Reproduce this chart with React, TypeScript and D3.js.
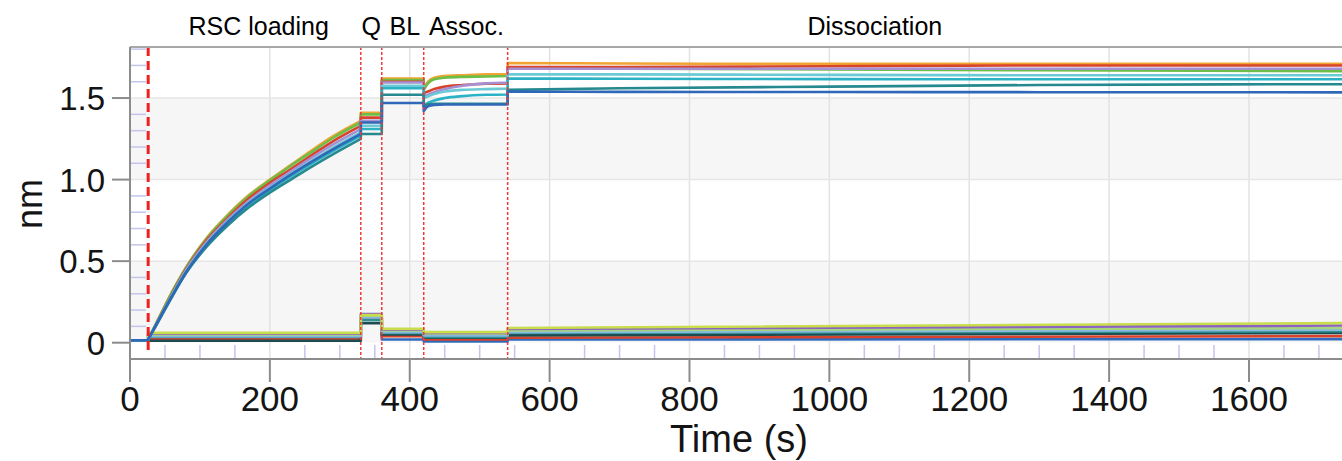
import React from 'react';
import * as d3 from 'd3';

// chart frame
const W = 1342, H = 461;
const plotLeft = 130, plotTop = 47, plotBottom = 359, plotRight = 1342;

const xMax = 1733;
const yMin = -0.1, yMax = 1.813;

const xTicks = [0, 200, 400, 600, 800, 1000, 1200, 1400, 1600];
const yTicks = [0, 0.5, 1.0, 1.5];
const yTickLabels = ['0', '0.5', '1.0', '1.5'];

// phase boundaries (s)
const loadStart = 26;
const stepTimes = [330, 360, 420, 540];
const phaseNames = ['RSC loading', 'Q', 'BL', 'Assoc.', 'Dissociation'];
const phaseLabelTimes = [184, 345, 393, 481, 1065];

// sensor traces (loaded)
const topColors = ['#f0a434', '#6cbf46', '#d8432c', '#a490d2', '#6ccad6', '#2bb2c4', '#26898f', '#2f68b8'];
const topPre = [0.015, 0.015, 0.015, 0.015, 0.015, 0.015, 0.015, 0.015];
const loadTimes = [26, 40, 60, 80, 110, 140, 170, 200, 230, 260, 290, 330];
const topLoad = [
  [0.02, 0.14, 0.31, 0.46, 0.645, 0.785, 0.905, 1.00, 1.09, 1.18, 1.265, 1.36],
  [0.02, 0.14, 0.31, 0.46, 0.64, 0.78, 0.90, 0.995, 1.085, 1.17, 1.255, 1.35],
  [0.02, 0.135, 0.30, 0.45, 0.63, 0.765, 0.885, 0.98, 1.065, 1.15, 1.235, 1.33],
  [0.02, 0.13, 0.295, 0.445, 0.62, 0.755, 0.87, 0.965, 1.05, 1.135, 1.215, 1.31],
  [0.02, 0.13, 0.29, 0.435, 0.61, 0.745, 0.86, 0.95, 1.035, 1.115, 1.195, 1.29],
  [0.02, 0.13, 0.285, 0.43, 0.60, 0.735, 0.845, 0.935, 1.02, 1.10, 1.175, 1.27],
  [0.02, 0.125, 0.28, 0.425, 0.59, 0.72, 0.83, 0.92, 1.00, 1.08, 1.155, 1.25],
  [0.02, 0.13, 0.285, 0.43, 0.605, 0.74, 0.855, 0.945, 1.03, 1.11, 1.185, 1.28],
];
const topQ = [1.41, 1.40, 1.38, 1.36, 1.33, 1.31, 1.28, 1.35];
const topBL = [1.62, 1.61, 1.60, 1.595, 1.575, 1.56, 1.52, 1.47];
const assocTimes = [420, 426, 435, 450, 475, 510, 540];
const topAssoc = [
  [1.56, 1.60, 1.625, 1.635, 1.64, 1.645, 1.645],
  [1.55, 1.59, 1.615, 1.625, 1.63, 1.632, 1.635],
  [1.53, 1.54, 1.555, 1.57, 1.58, 1.588, 1.59],
  [1.51, 1.52, 1.535, 1.555, 1.575, 1.59, 1.595],
  [1.50, 1.51, 1.525, 1.54, 1.55, 1.555, 1.558],
  [1.45, 1.47, 1.485, 1.50, 1.512, 1.52, 1.522],
  [1.45, 1.46, 1.465, 1.465, 1.465, 1.465, 1.465],
  [1.42, 1.45, 1.458, 1.46, 1.46, 1.46, 1.46],
];
const dissocTimes = [540, 700, 1000, 1300, 1733];
const topDissoc = [
  [1.715, 1.712, 1.71, 1.71, 1.71],
  [1.685, 1.68, 1.675, 1.67, 1.665],
  [1.69, 1.69, 1.695, 1.70, 1.70],
  [1.68, 1.68, 1.68, 1.68, 1.68],
  [1.645, 1.645, 1.642, 1.64, 1.64],
  [1.62, 1.618, 1.616, 1.615, 1.615],
  [1.55, 1.56, 1.57, 1.58, 1.585],
  [1.54, 1.538, 1.537, 1.536, 1.535],
];

// reference traces (not loaded)
const refColors = ['#c8dc4c', '#8c62c4', '#a6d47c', '#86b8e2', '#2e9090', '#1c4c50', '#d9412b', '#2f6cc0'];
const refPre = [0.015, 0.015, 0.015, 0.015, 0.015, 0.015, 0.015, 0.015];
const refLoad = [0.06, 0.055, 0.05, 0.04, 0.035, 0.012, 0.025, 0.028];
const refQ = [0.17, 0.175, 0.165, 0.155, 0.14, 0.12, 0.15, 0.15];
const refBL = [0.085, 0.08, 0.075, 0.065, 0.06, 0.05, 0.04, 0.02];
const refAssoc = [0.065, 0.06, 0.055, 0.045, 0.035, 0.03, 0.02, 0.008];
const refDissocStart = [0.09, 0.085, 0.075, 0.065, 0.06, 0.045, 0.03, 0.02];
const refDissocEnd = [0.12, 0.105, 0.09, 0.08, 0.07, 0.06, 0.04, 0.022];

const font = "'Liberation Sans', Arial, sans-serif";

type Pt = [number, number];

export default function App() {
  const x = d3.scaleLinear().domain([0, xMax]).range([plotLeft, plotRight]);
  const y = d3.scaleLinear().domain([yMin, yMax]).range([plotBottom, plotTop]);

  const line = d3.line<Pt>().x(d => x(d[0])).y(d => y(d[1])).curve(d3.curveMonotoneX);

  // joins the phase segments into one path, the jumps become vertical steps
  const joinSegs = (segs: Pt[][]) =>
    segs.map((s, i) => { const p = line(s) || ''; return i === 0 ? p : 'L' + p.slice(1); }).join('');

  const [q0, q1, a0, d0] = stepTimes;

  const topPaths = topColors.map((c, i) => joinSegs([
    [[0, topPre[i]], [loadStart, topPre[i]]],
    loadTimes.map((t, j) => [t, topLoad[i][j]] as Pt),
    [[q0, topQ[i]], [q1, topQ[i]]],
    [[q1, topBL[i]], [a0, topBL[i]]],
    assocTimes.map((t, j) => [t, topAssoc[i][j]] as Pt),
    dissocTimes.map((t, j) => [t, topDissoc[i][j]] as Pt),
  ]));

  const refPaths = refColors.map((c, i) => joinSegs([
    [[0, refPre[i]], [loadStart, refPre[i]]],
    [[loadStart, refLoad[i]], [q0, refLoad[i]]],
    [[q0, refQ[i]], [q1, refQ[i]]],
    [[q1, refBL[i]], [a0, refBL[i]]],
    [[a0, refAssoc[i]], [d0, refAssoc[i]]],
    [[d0, refDissocStart[i]], [xMax, refDissocEnd[i]]],
  ]));

  const xMinor = d3.range(50, xMax, 50).filter(t => t % 200 !== 0);
  const yMinor = d3.range(-0.1, yMax, 0.1).map(v => Math.round(v * 10) / 10).filter(v => Math.abs((v * 2) - Math.round(v * 2)) > 1e-6);

  return (
    <svg width={W} height={H} style={{ position: 'absolute', left: 0, top: 0, background: '#fff' }}>
      <defs>
        <clipPath id="plot">
          <rect x={plotLeft} y={plotTop} width={plotRight - plotLeft} height={plotBottom - plotTop} />
        </clipPath>
      </defs>

      {/* shaded bands */}
      <rect x={plotLeft} y={y(0.5)} width={plotRight - plotLeft} height={y(0) - y(0.5)} fill="#f6f6f6" />
      <rect x={plotLeft} y={y(1.5)} width={plotRight - plotLeft} height={y(1.0) - y(1.5)} fill="#f6f6f6" />

      {/* grid */}
      {xTicks.filter(t => t > 0).map(t => (
        <line key={'gx' + t} x1={x(t)} x2={x(t)} y1={plotTop} y2={plotBottom} stroke="#e2e2e2" strokeWidth={1.5} />
      ))}
      {yTicks.filter(v => v > 0).map(v => (
        <line key={'gy' + v} x1={plotLeft} x2={plotRight} y1={y(v)} y2={y(v)} stroke="#e6e6e6" strokeWidth={1.5} />
      ))}

      {/* minor ticks inside */}
      {xMinor.map(t => (
        <line key={'mx' + t} x1={x(t)} x2={x(t)} y1={plotBottom} y2={plotBottom - 14} stroke="#c4c4ec" strokeWidth={1.5} />
      ))}
      {yMinor.map(v => (
        <line key={'my' + v} x1={plotLeft} x2={plotLeft + 16} y1={y(v)} y2={y(v)} stroke="#c4c4ec" strokeWidth={1.5} />
      ))}

      {/* traces */}
      <g clipPath="url(#plot)" fill="none" strokeLinejoin="round">
        {refPaths.map((p, i) => ({ p, i })).reverse().map(({ p, i }) => (
          <path key={'r' + i} d={p} stroke={refColors[i]} strokeWidth={2.6} />
        ))}
        {topPaths.map((p, i) => (
          <path key={'t' + i} d={p} stroke={topColors[i]} strokeWidth={2.6} />
        ))}
      </g>

      {/* phase markers */}
      <line x1={x(loadStart)} x2={x(loadStart)} y1={plotTop} y2={plotBottom - 6} stroke="#f02020" strokeWidth={3} strokeDasharray="9,5" />
      {stepTimes.map(t => (
        <line key={'s' + t} x1={x(t)} x2={x(t)} y1={plotTop} y2={plotBottom} stroke="#f03a3a" strokeWidth={1.5} strokeDasharray="3,2" />
      ))}

      {/* frame */}
      <line x1={plotLeft} x2={plotRight} y1={plotTop} y2={plotTop} stroke="#a8a8a8" strokeWidth={2} />
      <line x1={plotLeft} x2={plotLeft} y1={plotTop} y2={plotBottom} stroke="#8c8c8c" strokeWidth={2} />
      <line x1={plotLeft} x2={plotRight} y1={plotBottom} y2={plotBottom} stroke="#8c8c8c" strokeWidth={2} />

      {/* major ticks + labels */}
      {xTicks.map(t => (
        <g key={'xt' + t}>
          <line x1={x(t)} x2={x(t)} y1={plotBottom} y2={plotBottom + 23} stroke="#8c8c8c" strokeWidth={2} />
          <text x={x(t)} y={411} textAnchor="middle" fontFamily={font} fontSize={35} fill="#141414">{t}</text>
        </g>
      ))}
      {yTicks.map((v, i) => (
        <g key={'yt' + v}>
          <line x1={plotLeft - 18} x2={plotLeft} y1={y(v)} y2={y(v)} stroke="#8c8c8c" strokeWidth={2} />
          <text x={105} y={y(v) + 12} textAnchor="end" fontFamily={font} fontSize={33} fill="#141414">{yTickLabels[i]}</text>
        </g>
      ))}

      <text x={739} y={452} textAnchor="middle" fontFamily={font} fontSize={38} fill="#141414">Time (s)</text>
      <text transform={`translate(42,${y(0.85)}) rotate(-90)`} textAnchor="middle" fontFamily={font} fontSize={36} fill="#141414">nm</text>

      {phaseNames.map((n, i) => (
        <text key={n} x={x(phaseLabelTimes[i])} y={35} textAnchor="middle" fontFamily={font} fontSize={25} fill="#000">{n}</text>
      ))}
    </svg>
  );
}
